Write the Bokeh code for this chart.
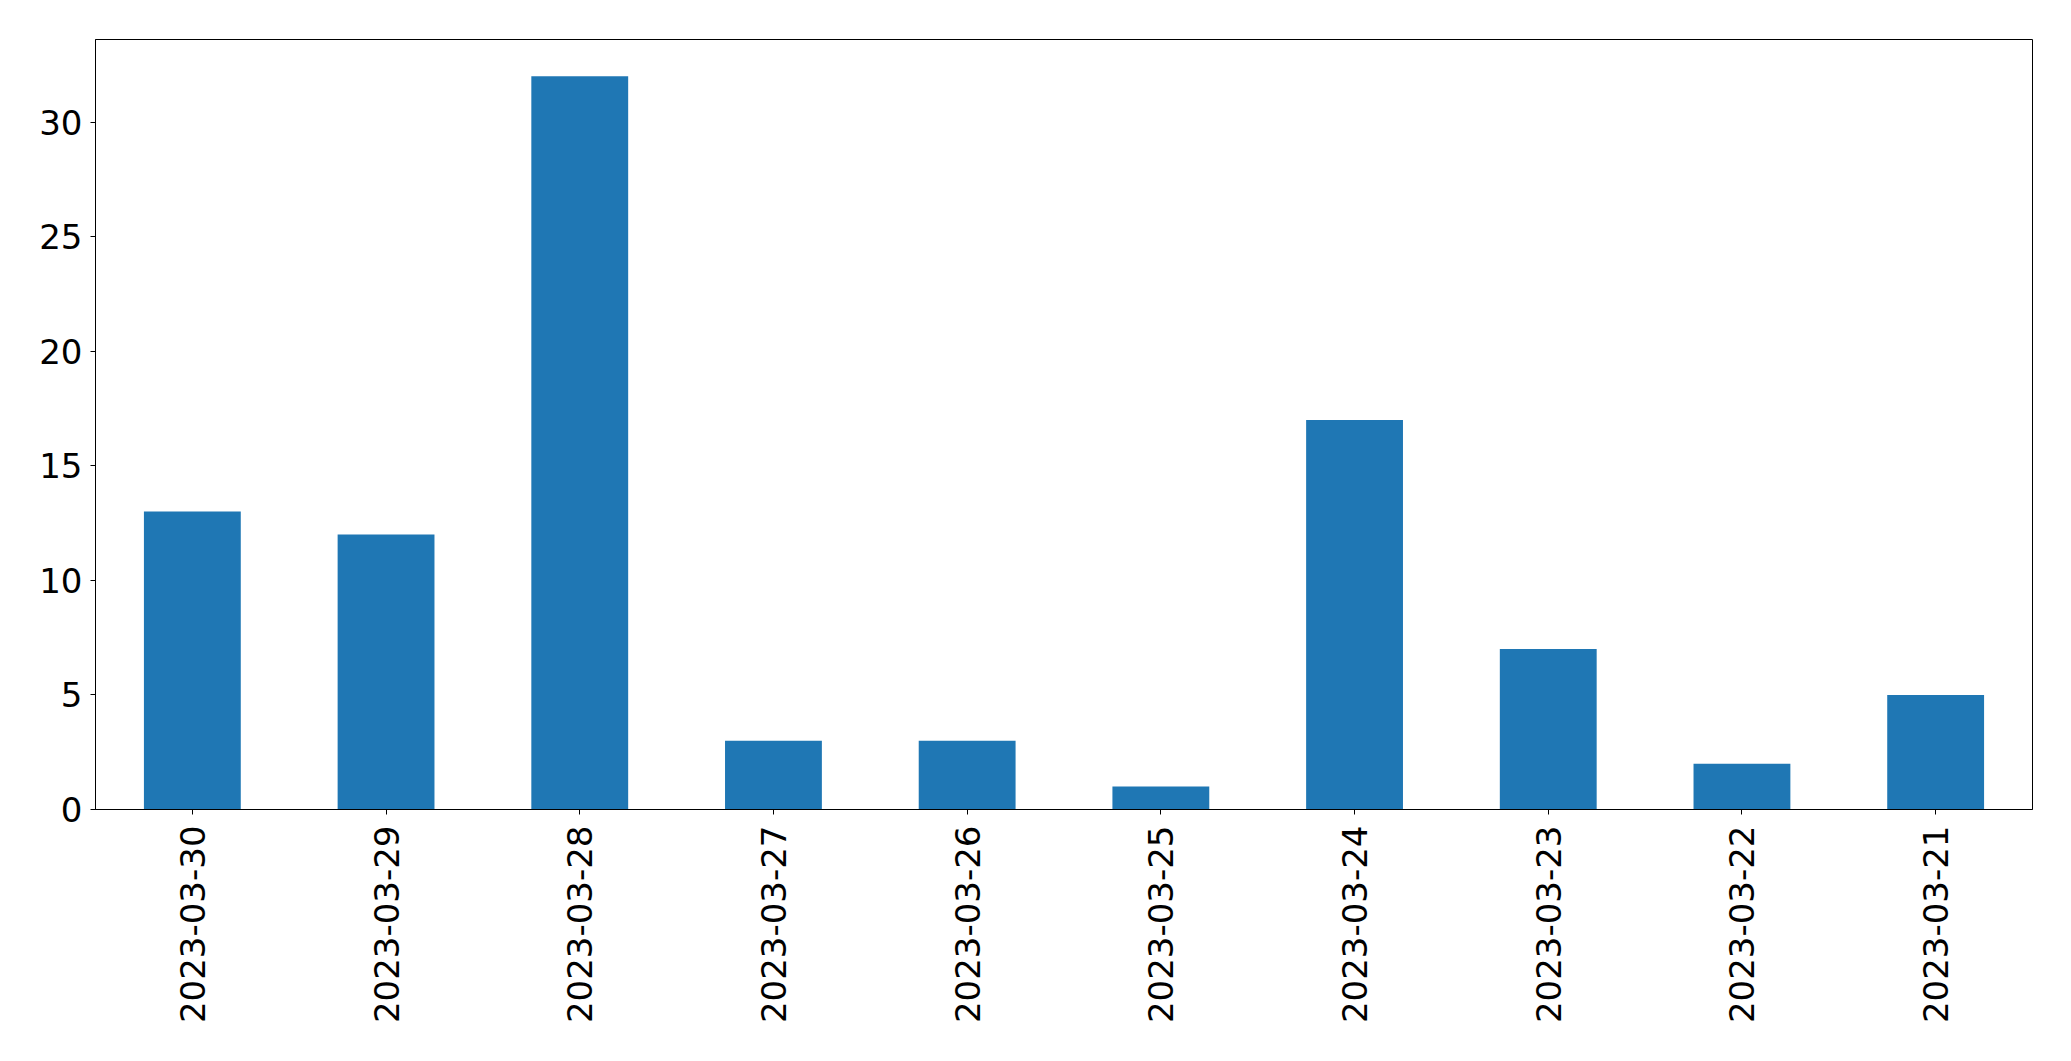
import math
from bokeh.plotting import figure
from bokeh.models import FactorRange, Range1d, FixedTicker
from bokeh.embed import file_html
from bokeh.resources import INLINE

dates = ["2023-03-30", "2023-03-29", "2023-03-28", "2023-03-27", "2023-03-26",
         "2023-03-25", "2023-03-24", "2023-03-23", "2023-03-22", "2023-03-21"]
counts = [13, 12, 32, 3, 3, 1, 17, 7, 2, 5]
y_ticks = [0, 5, 10, 15, 20, 25, 30]

p = figure(
    x_range=FactorRange(factors=dates, range_padding=0),
    y_range=Range1d(0, 33.6),
    frame_width=1937, frame_height=770,
    min_border_left=95, min_border_right=31, min_border_top=39, min_border_bottom=240,
    output_backend="svg", toolbar_location=None,
)
p.vbar(x=dates, top=counts, width=0.5, color="#1f77b4", line_color=None)

p.xgrid.visible = False
p.ygrid.visible = False
p.outline_line_color = "black"
p.outline_line_width = 1
p.outline_line_alpha = 1

for ax in (p.xaxis, p.yaxis):
    ax.axis_line_color = "black"
    ax.major_tick_line_color = "black"
    ax.major_tick_out = 5
    ax.major_tick_in = 0
    ax.minor_tick_line_color = None
    ax.major_label_text_font = "DejaVu Sans"
    ax.major_label_text_font_size = "34px"
    ax.major_label_text_color = "black"

p.yaxis.ticker = FixedTicker(ticks=y_ticks)
p.yaxis.major_label_standoff = 8
p.xaxis.major_label_orientation = math.pi / 2
p.xaxis.major_label_standoff = 11
p.background_fill_color = "white"
p.border_fill_color = "white"

open("out.html", "w").write(file_html(p, INLINE))
